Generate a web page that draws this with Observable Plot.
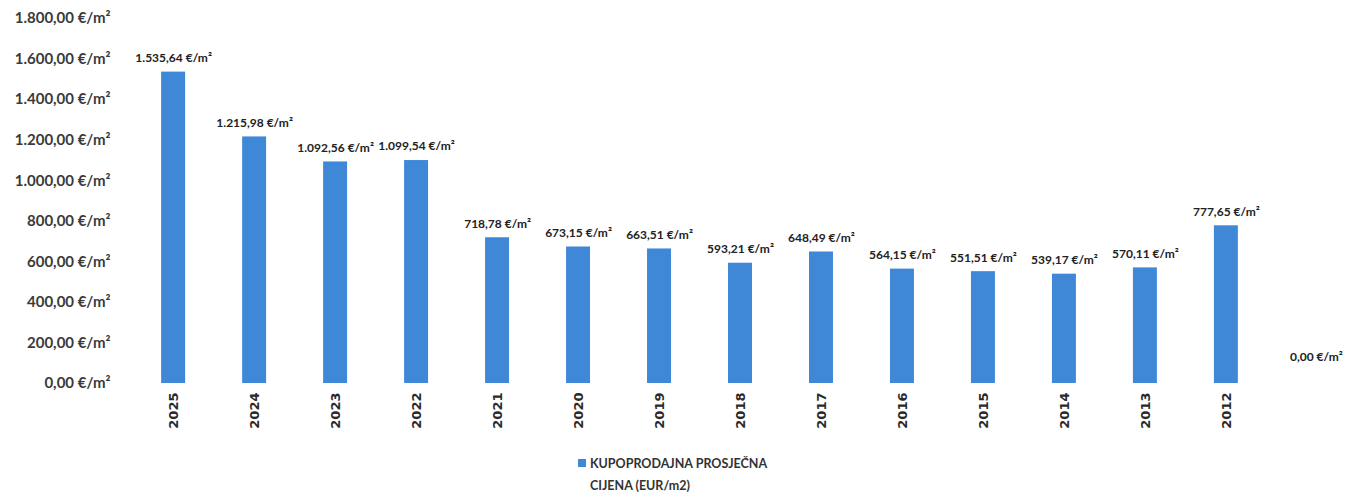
<!DOCTYPE html>
<html>
<head>
<meta charset="utf-8">
<script src="https://cdn.jsdelivr.net/npm/d3@7"></script>
<script src="https://cdn.jsdelivr.net/npm/@observablehq/plot@0.6"></script>
<style>
  body { margin: 0; background: #fff; font-family: Lato, "Open Sans", sans-serif; }
  #legend { position: relative; margin-top: 8px; padding-left: 578px; font-weight: 700; font-size: 12.5px; color: #333; line-height: 22px; }
  #legend .sw { display: inline-block; width: 8px; height: 8px; background: #3f88d8; margin-right: 4px; vertical-align: 1px; }
</style>
</head>
<body>
<div id="chart"></div>
<script>
const years = ["2025","2024","2023","2022","2021","2020","2019","2018","2017","2016","2015","2014","2013","2012"," "];
const prices = [1535.64,1215.98,1092.56,1099.54,718.78,673.15,663.51,593.21,648.49,564.15,551.51,539.17,570.11,777.65,0];
const yTicks = [0,200,400,600,800,1000,1200,1400,1600,1800];
const seriesName = ["KUPOPRODAJNA PROSJEČNA", "CIJENA (EUR/m2)"];

const loc = d3.formatLocale({decimal: ",", thousands: ".", grouping: [3], currency: ["", ""]});
const fmt = loc.format(",.2f");
const data = years.map((y, i) => ({year: y, price: prices[i]}));
const lbl = d => fmt(d.price) + " €/m²";

const chart = Plot.plot({
  width: 1348,
  height: 445,
  marginLeft: 132,
  marginRight: 0,
  marginTop: 18,
  marginBottom: 62,
  style: {fontFamily: "Lato, 'Open Sans', sans-serif", fontWeight: 700, color: "#333", background: "#fff"},
  x: {domain: years, paddingInner: 0.704, paddingOuter: 0.36, round: false, label: null},
  y: {domain: [0, 1800], label: null},
  marks: [
    Plot.axisY({ticks: yTicks, tickSize: 0, tickPadding: 22, tickFormat: d => fmt(d) + " €/m²", fontSize: 15, fill: "#3a3a3a"}),
    Plot.axisX({tickSize: 0, tickRotate: -90, tickPadding: 9, fontSize: 13, fontFamily: "'DejaVu Sans', sans-serif", fill: "#2a2a2a"}),
    Plot.barY(data, {x: "year", y: "price", fill: "#3f88d8"}),
    Plot.text(data.slice(0, -1), {x: "year", y: "price", text: lbl, dy: -14, fontSize: 12, fontWeight: 700, fill: "#222"}),
    Plot.text(data.slice(-1), {x: "year", y: "price", text: lbl, dy: -26, dx: 9, fontSize: 12, fontWeight: 700, fill: "#222"})
  ]
});
document.getElementById("chart").appendChild(chart);
const lg = document.createElement("div");
lg.id = "legend";
lg.innerHTML = `<div><span class="sw"></span>${seriesName[0]}</div><div style="padding-left:12px">${seriesName[1]}</div>`;
document.body.appendChild(lg);
</script>
</body>
</html>
